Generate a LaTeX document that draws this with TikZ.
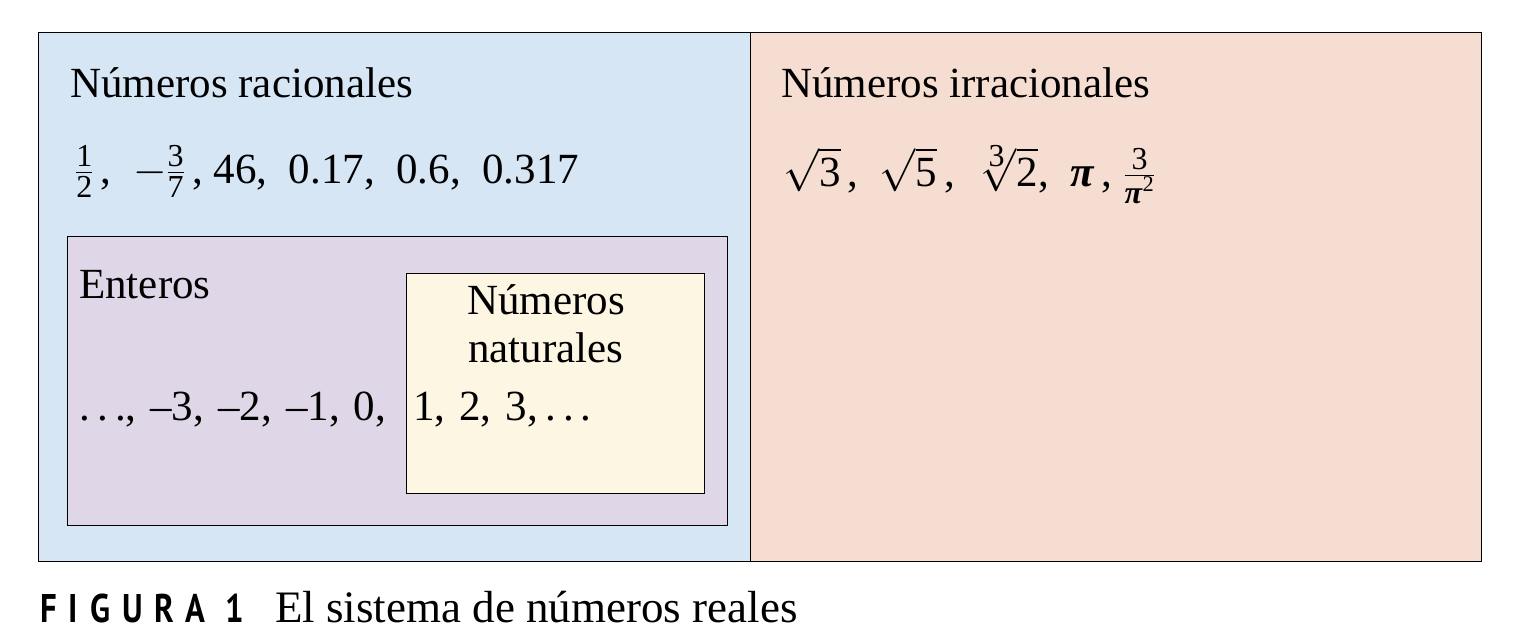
\RequirePackage{fix-cm}
\documentclass[tikz,border=0pt]{standalone}
\usepackage{amsmath}
\usepackage{fontspec}
\setmainfont{Liberation Serif}
\newfontfamily\figfont{PT Sans}[LetterSpace=30,FakeStretch=0.82]
\definecolor{ratblue}{HTML}{D6E6F5}
\definecolor{irrpink}{HTML}{F6DDD2}
\definecolor{intlilac}{HTML}{DFD7E8}
\definecolor{natcream}{HTML}{FDF6E3}
\newcommand{\tn}[1]{\text{#1}}
\newcommand{\sm}[1]{\text{\fontsize{32}{32}\selectfont #1}}
\newcommand{\fr}[2]{\genfrac{}{}{}{1}{\sm{#1}}{\sm{#2}}}
\newcommand{\bpi}{\textbf{\textit{π}}}
\newcommand{\gap}{,\hspace{14pt}}
\tikzset{
  region/.style={draw=black,line width=1pt,anchor=north west,inner sep=0pt},
  lbl/.style={anchor=base west,inner sep=0pt,font=\fontsize{43}{48}\selectfont},
}
\begin{document}
\begin{tikzpicture}[x=1pt,y=-1pt]
\useasboundingbox (0,0) rectangle (1528,642);
% regions
\node[region,fill=ratblue,minimum width=712pt,minimum height=529pt] (rac) at (38,32) {};
\node[region,fill=irrpink,minimum width=731pt,minimum height=529pt] (irr) at (750,32) {};
\node[region,fill=intlilac,minimum width=660pt,minimum height=289pt] (ent) at (67,236) {};
\node[region,fill=natcream,minimum width=298pt,minimum height=220pt] (nat) at (406,273) {};
% labels
\node[lbl] (racname) at (70,97) {Números racionales};
\node[lbl] (racnums) at (75,183) {$\fr{1}{2}\,$,\ \ $-\fr{3}{7}\,$,\ 46,\ \ 0.17,\ \ 0.6,\ \ 0.317};
\node[lbl] (irrname) at (781,97) {Números irracionales};
\node[lbl] (irrnums) at (783,186) {$\sqrt{\tn{3}}\,$,\ \ $\sqrt{\tn{5}}\,$,\ \ $\sqrt[\sm{3}]{\tn{2}}$,\ \ \bpi\,,\ $\fr{3}{\bpi$^{\text{2}}$}$};
\node[lbl] (entname) at (79,298) {Enteros};
\node[lbl,anchor=base,align=center] (natname) at (546,362) {Números\\naturales};
\node[lbl] (entnums) at (79,420) {.\,.\,.\gap –3\gap –2\gap –1\gap 0,};
\node[lbl] (natnums) at (413,420) {1\gap 2\gap 3,\,.\,.\,.};
% caption
\node[anchor=base west,inner sep=0pt,font=\figfont\bfseries\fontsize{40}{44}\selectfont] (fignum) at (40,622) {FIGURA 1};
\node[lbl,font=\fontsize{45}{48}\selectfont] (figtext) at (275,622) {El sistema de números reales};
\end{tikzpicture}
\end{document}
